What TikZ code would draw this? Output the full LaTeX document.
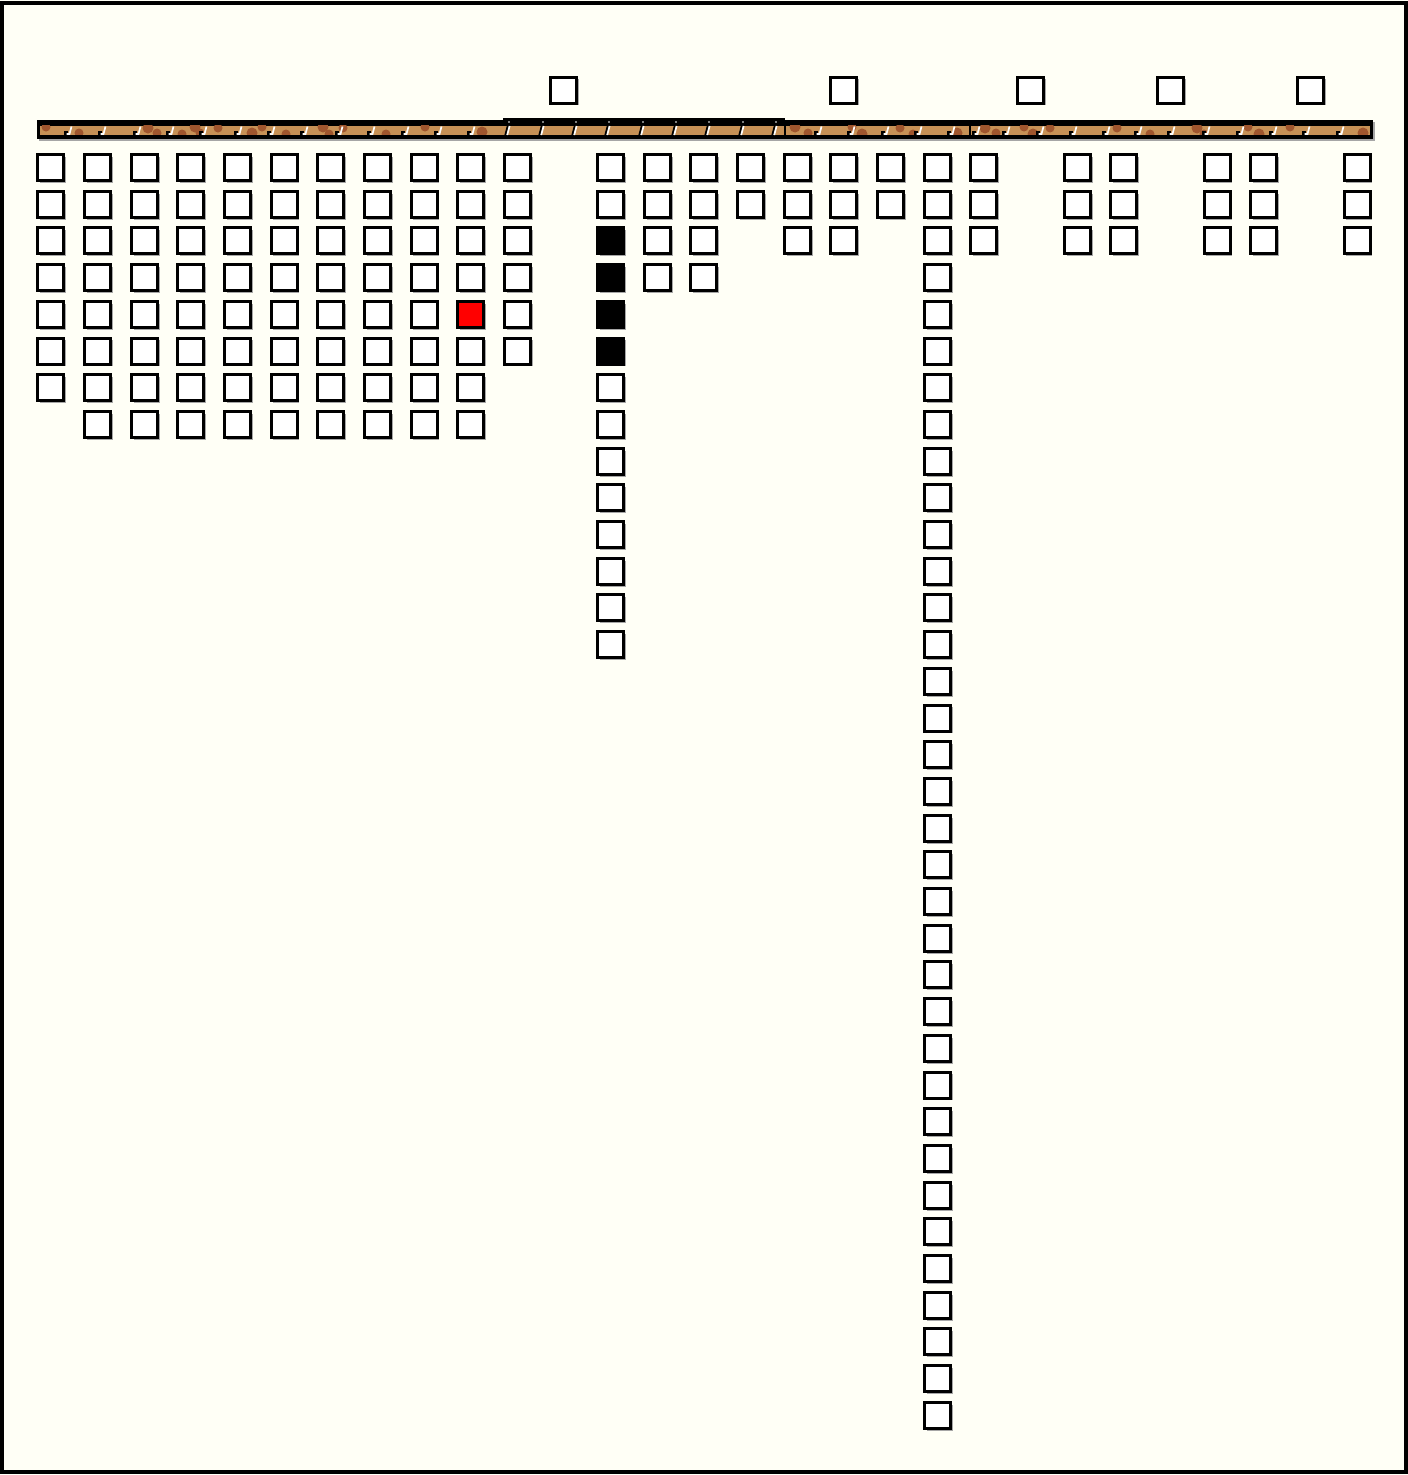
\documentclass[tikz,border=0pt]{standalone}
\usetikzlibrary{shadows}
\definecolor{bg}{RGB}{255,255,246}
\definecolor{barfill}{RGB}{199,145,86}
\definecolor{spot}{RGB}{160,86,46}
\begin{document}
\begin{tikzpicture}[x=1pt,y=-1pt,
  cell/.style={draw=black, line width=3pt, fill=white, minimum size=26pt,
    inner sep=0pt, outer sep=0pt,
    drop shadow={shadow xshift=2.4pt, shadow yshift=-2.4pt, fill=black!35, opacity=1}},
  tickw/.style={white, line width=1.7pt},
  tickb/.style={black, line width=2pt}]
\useasboundingbox (0,0) rectangle (1408,1475);
% background and frame
\fill[bg] (0,0) rectangle (1408,1475);
\draw[black, line width=4pt] (2,2.5) rectangle (1405.5,1472);
% bar
\fill[black!35] (39,122) rectangle (1375,141);
\fill[black] (37,120) rectangle (1373,139);
\fill[black] (503,117.5) rectangle (785,126);
\fill[barfill] (40,125.5) rectangle (1370,134.5);
\begin{scope}
  \clip (40,125.5) rectangle (1370,134.5);
  \foreach \x/\y/\r in {46/127/4.5, 79/133/4.5, 148/128/5.5, 157/133/4.5, 182/134/4.5, 195/127/5.5,
    200/133/4.5, 218/128/4.5, 252/133/5.5, 262/127/4.5, 286/134/4.5, 323/127/5.5, 329/134/4.5,
    343/128/4.5, 386/134/4.5, 425/127/4.5, 482/132/5.5, 795/127/5.5, 808/133/4.5, 852/127/4.5,
    862/134/5.5, 900/128/4.5, 913/134/4.5, 957/133/5.5, 985/128/5.5, 996/133/4.5, 1024/127/4.5,
    1033/134/5.5, 1050/128/4.5, 1117/128/4.5, 1150/134/4.5, 1197/128/5.5, 1204/134/4.5,
    1248/127/4.5, 1259/134/5.5, 1290/127/4.5, 1363/133/5.5}
    \fill[spot] (\x,\y) circle (\r);
\end{scope}
% ticks, plain segments
\foreach \x in {70,104,139,172,205,240,273,306,341,373,407,440,473,
    820,853,887,920,953,978,1008,1042,1075,1108,1140,1173,1208,1242,1275,1308,1342} {
  \fill[black] (\x-6.5,130.5) rectangle (\x-2.5,135);
  \draw[tickw] (\x-3.5,134) -- (\x-0.5,134) -- (\x+1.5,126.5);
}
% ticks, raised segment
\foreach \x in {508,542,575,608,642,675,708,742,775} {
  \draw[tickb] (\x-2.6,135) -- (\x-0.2,126);
  \draw[tickw] (\x-0.8,135) -- (\x+1.6,126);
  \fill[white] (\x+1,122) circle (0.9);
}
% segment joints
\draw[black, line width=1.5pt] (785,125) -- (785,135);
\draw[black, line width=1.5pt] (970,125) -- (970,135);
% squares hanging below the bar
\foreach \c/\a/\b/\fc in {0/1/7/white, 1/1/8/white, 2/1/8/white, 3/1/8/white,
    4/1/8/white, 5/1/8/white, 6/1/8/white, 7/1/8/white, 8/1/8/white,
    9/1/4/white, 9/5/5/red, 9/6/8/white, 10/1/6/white,
    12/1/2/white, 12/3/6/black, 12/7/14/white,
    13/1/4/white, 14/1/4/white, 15/1/2/white, 16/1/3/white, 17/1/3/white,
    18/1/2/white, 19/1/35/white, 20/1/3/white, 22/1/3/white, 23/1/3/white,
    25/1/3/white, 26/1/3/white, 28/1/3/white} {
  \foreach \r in {\a,...,\b} {
    \node[cell, fill=\fc] (sq-\c-\r) at ({50.8+46.65*\c},{167.5+36.7*(\r-1)}) {};
  }
}
% squares above the bar
\foreach \c in {11,17,21,24,27} {
  \node[cell] (top-\c) at ({50.8+46.65*\c},90) {};
}
\end{tikzpicture}
\end{document}
